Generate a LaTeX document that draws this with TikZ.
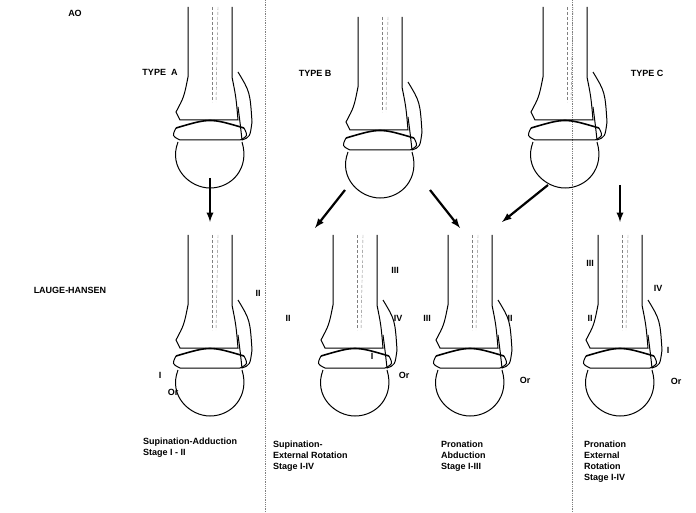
\documentclass[tikz,border=0pt]{standalone}
\usepackage{fontspec}
\setmainfont{Liberation Sans}
\usetikzlibrary{positioning}
\tikzset{
  lbl/.style={font=\bfseries\small, inner sep=1pt},
  captext/.style={font=\bfseries\small, align=left, inner sep=1pt},
  bigarrow/.style={-latex, line width=2.2pt},
  sep/.style={densely dotted, line width=0.8pt, gray},
  ankle/.pic={
    % tibia shaft and flare
    \draw[line width=1pt] (-22,-105) -- (-22,-35) .. controls (-26,-15) .. (-34,0)
      -- (-30,8) -- (28,8) .. controls (26,-15) .. (22,-35) -- (22,-105);
    \draw[densely dashed, gray] (2,-105) -- (2,-10);
    \draw[densely dashed, gray] (8,-105) -- (6,-10);
    % fibula
    \draw[line width=1pt] (28,-40) .. controls (40,-20) .. (42,10) .. controls (40,25) .. (32,28)
      .. controls (30,10) .. (28,-5);
    % talus
    \draw[line width=1.6pt] (-34,16) .. controls (0,6) .. (34,16);
    \draw[line width=1pt] (-34,16) .. controls (-38,24) .. (-30,28) -- (30,28)
      .. controls (38,24) .. (34,16);
    % calcaneus
    \draw[line width=1pt] (-32,30) .. controls (-42,56) and (-20,76) .. (0,76)
      .. controls (22,76) and (40,56) .. (32,30);
  }
}
\begin{document}
\begin{tikzpicture}[x=1pt,y=-1pt]
  \useasboundingbox (0,0) rectangle (696,513);
  % separators
  \draw[sep] (265,0) -- (265,513);
  \draw[sep] (572,0) -- (572,513);
  % ankles
  \pic at (210,112) {ankle};
  \pic at (380,122) {ankle};
  \pic at (565,112) {ankle};
  \pic at (210,340) {ankle};
  \pic at (355,340) {ankle};
  \pic at (470,340) {ankle};
  \pic at (620,340) {ankle};
  % labels
  \node[lbl] (ao) at (75,13) {AO};
  \node[lbl] (ta) at (160,72) {TYPE\ \ A};
  \node[lbl] (tb) at (315,73) {TYPE B};
  \node[lbl] (tc) at (647,73) {TYPE C};
  \node[lbl] (lh) at (70,290) {LAUGE-HANSEN};
  % fracture labels
  \node[lbl] (a2) at (258,293) {II};
  \node[lbl] (a1) at (160,375) {I};
  \node[lbl] (aor) at (173,392) {Or};
  \node[lbl] (b3) at (395,270) {III};
  \node[lbl] (b2) at (288,318) {II};
  \node[lbl] (b4) at (398,318) {IV};
  \node[lbl] (b1) at (372,356) {I};
  \node[lbl] (bor) at (404,375) {Or};
  \node[lbl] (c3) at (427,318) {III};
  \node[lbl] (c2) at (510,318) {II};
  \node[lbl] (cor) at (525,380) {Or};
  \node[lbl] (d3) at (590,263) {III};
  \node[lbl] (d4) at (658,288) {IV};
  \node[lbl] (d2) at (590,318) {II};
  \node[lbl] (d1) at (668,350) {I};
  \node[lbl] (dor) at (676,381) {Or};
  % captions
  \node[captext, anchor=north] (sa) at (190,437) {Supination-Adduction\\Stage I - II};
  \node[captext, anchor=north west] (ser) at (272,440) {Supination-\\External Rotation\\Stage I-IV};
  \node[captext, anchor=north west] (pa) at (440,440) {Pronation\\Abduction\\Stage I-III};
  \node[captext, anchor=north west] (per) at (583,440) {Pronation\\External\\Rotation\\Stage I-IV};
  % arrows
  \coordinate (a0) at (210,178); \coordinate (a9) at (210,222);
  \coordinate (b0) at (345,190); \coordinate (b9) at (315,228);
  \coordinate (c0) at (430,190); \coordinate (c9) at (460,228);
  \coordinate (d0) at (548,185); \coordinate (d9) at (502,222);
  \coordinate (e0) at (620,185); \coordinate (e9) at (620,222);
  \draw[bigarrow] (a0) -- (a9);
  \draw[bigarrow] (b0) -- (b9);
  \draw[bigarrow] (c0) -- (c9);
  \draw[bigarrow] (d0) -- (d9);
  \draw[bigarrow] (e0) -- (e9);
\end{tikzpicture}
\end{document}
